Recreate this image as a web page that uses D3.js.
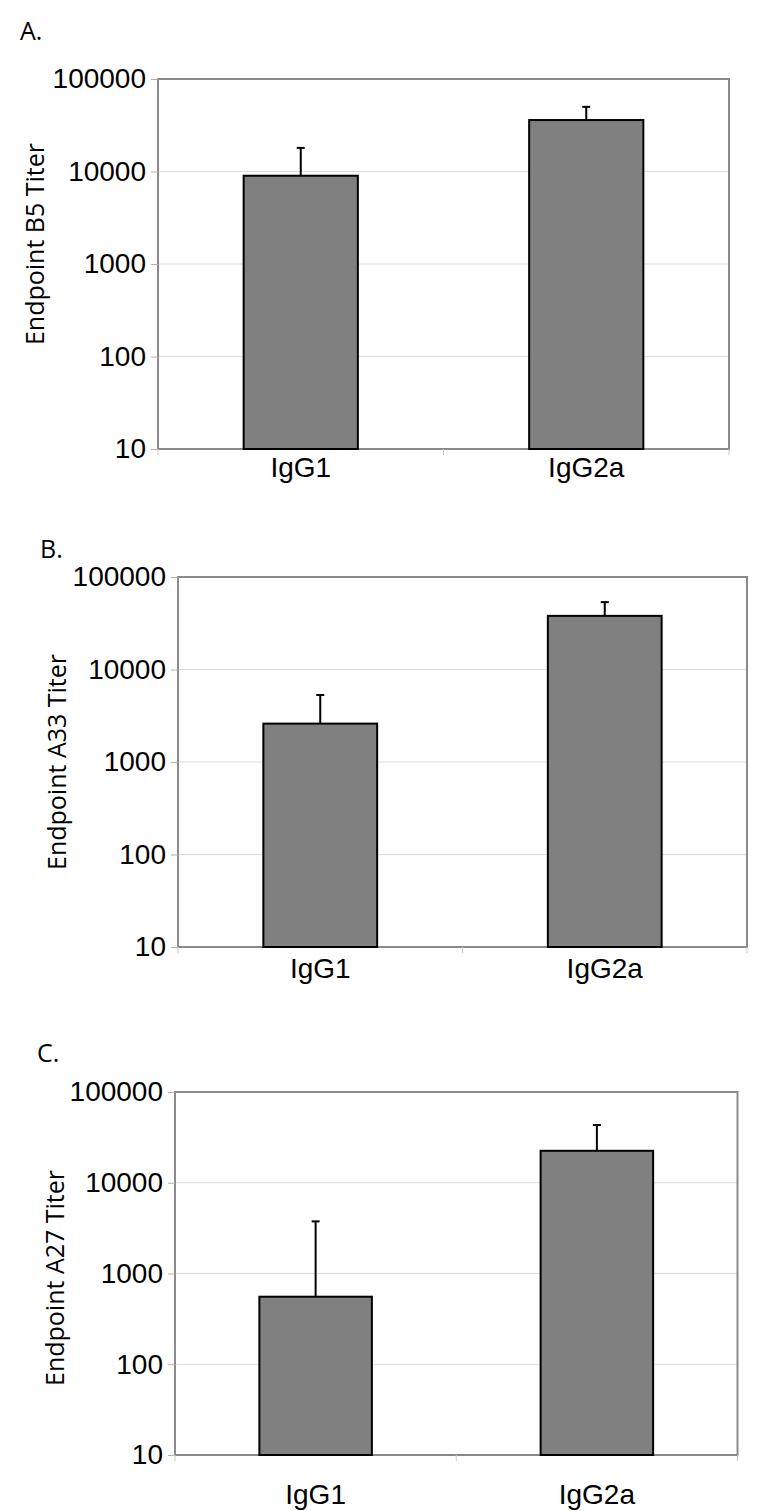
<!DOCTYPE html>
<html>
<head>
<meta charset="utf-8">
<script src="https://cdnjs.cloudflare.com/ajax/libs/d3/7.8.5/d3.min.js"></script>
<style>
  body { margin: 0; background: #fff; }
  svg { display: block; }
</style>
</head>
<body>
<svg id="chart" width="759" height="1511"></svg>
<script>
// data
var categories = ["IgG1", "IgG2a"];
var tickValues = [10, 100, 1000, 10000, 100000];
var panelLetters = ["A.", "B.", "C."];
var yTitles = ["Endpoint B5 Titer", "Endpoint A33 Titer", "Endpoint A27 Titer"];

var meansB5 = [9000, 36000];
var errorsB5 = [9000, 14000];
var meansA33 = [2600, 38000];
var errorsA33 = [2700, 15500];
var meansA27 = [555, 22500];
var errorsA27 = [3200, 20800];

var seriesMeans = [meansB5, meansA33, meansA27];
var seriesErrors = [errorsB5, errorsA33, errorsA27];

// panel placement on the page
var layouts = [
    {left: 158, right: 729, top: 79, bottom: 449, titleX: 35, titleY: 244, letterX: 20, letterY: 40, catDy: 28},
    {left: 178, right: 747, top: 577, bottom: 947, titleX: 57, titleY: 762, letterX: 40, letterY: 558, catDy: 31},
    {left: 175, right: 737.5, top: 1092, bottom: 1455, titleX: 55, titleY: 1278, letterX: 37, letterY: 1062, catDy: 49}
];

var svg = d3.select("#chart");

function drawPanel(index){
    var lay = layouts[index];
    var means = seriesMeans[index];
    var errors = seriesErrors[index];
    var data = categories.map(function(c, i){
        return {name: c, mean: means[i], err: errors[i]};
    });

    var x = d3.scaleBand().domain(categories).range([lay.left, lay.right]).paddingInner(0.6).paddingOuter(0.3);
    var y = d3.scaleLog().domain([10, 100000]).range([lay.bottom, lay.top]);

    var g = svg.append("g");

    // grid lines
    g.selectAll("line.grid").data(tickValues.slice(1, -1)).enter()
        .append("line")
        .attr("x1", lay.left).attr("x2", lay.right)
        .attr("y1", function(d){ return y(d); })
        .attr("y2", function(d){ return y(d); })
        .attr("stroke", "#dcdcdc").attr("stroke-width", 1);

    // frame
    g.append("rect")
        .attr("x", lay.left).attr("y", lay.top)
        .attr("width", lay.right - lay.left).attr("height", lay.bottom - lay.top)
        .attr("fill", "none").attr("stroke", "#8a8a8a").attr("stroke-width", 2);

    // y axis
    var yAxis = d3.axisLeft(y).tickValues(tickValues).tickFormat(d3.format("d")).tickSize(7).tickPadding(5);
    var yg = g.append("g").attr("transform", "translate(" + lay.left + ",0)").call(yAxis);
    yg.select(".domain").remove();
    yg.selectAll(".tick line").attr("stroke", "#b0b0b0");
    yg.selectAll(".tick text")
        .attr("fill", "#000")
        .style("font-family", "'Liberation Sans', Arial, sans-serif")
        .style("font-size", "28px");

    // x axis: ticks at category boundaries
    var bounds = [lay.left, (lay.left + lay.right) / 2, lay.right];
    g.selectAll("line.xtick").data(bounds).enter()
        .append("line")
        .attr("x1", function(d){ return d; }).attr("x2", function(d){ return d; })
        .attr("y1", lay.bottom).attr("y2", lay.bottom + 6)
        .attr("stroke", "#c8c8c8").attr("stroke-width", 1);

    g.selectAll("text.cat").data(categories).enter()
        .append("text")
        .attr("x", function(d){ return x(d) + x.bandwidth() / 2; })
        .attr("y", lay.bottom + lay.catDy)
        .attr("text-anchor", "middle")
        .style("font-family", "'Liberation Sans', Arial, sans-serif")
        .style("font-size", "28px")
        .text(function(d){ return d; });

    // error bars (upper only)
    g.selectAll("line.err").data(data).enter()
        .append("line")
        .attr("x1", function(d){ return x(d.name) + x.bandwidth() / 2; })
        .attr("x2", function(d){ return x(d.name) + x.bandwidth() / 2; })
        .attr("y1", function(d){ return y(d.mean); })
        .attr("y2", function(d){ return y(d.mean + d.err); })
        .attr("stroke", "#000").attr("stroke-width", 2);
    g.selectAll("line.cap").data(data).enter()
        .append("line")
        .attr("x1", function(d){ return x(d.name) + x.bandwidth() / 2 - 4; })
        .attr("x2", function(d){ return x(d.name) + x.bandwidth() / 2 + 4; })
        .attr("y1", function(d){ return y(d.mean + d.err); })
        .attr("y2", function(d){ return y(d.mean + d.err); })
        .attr("stroke", "#000").attr("stroke-width", 2);

    // bars
    g.selectAll("rect.bar").data(data).enter()
        .append("rect")
        .attr("x", function(d){ return x(d.name); })
        .attr("width", x.bandwidth())
        .attr("y", function(d){ return y(d.mean); })
        .attr("height", function(d){ return lay.bottom - y(d.mean); })
        .attr("fill", "#808080").attr("stroke", "#000").attr("stroke-width", 2);

    // y title
    g.append("text")
        .attr("transform", "translate(" + lay.titleX + "," + lay.titleY + ") rotate(-90)")
        .attr("text-anchor", "middle")
        .attr("dy", "0.35em")
        .style("font-family", "'Open Sans', sans-serif")
        .style("font-size", "25px")
        .text(yTitles[index]);

    // panel letter
    g.append("text")
        .attr("x", lay.letterX).attr("y", lay.letterY)
        .style("font-family", "'Open Sans', sans-serif")
        .style("font-size", "25px")
        .text(panelLetters[index]);
}

for (var i = 0; i < layouts.length; i++){
    drawPanel(i);
}
</script>
</body>
</html>
